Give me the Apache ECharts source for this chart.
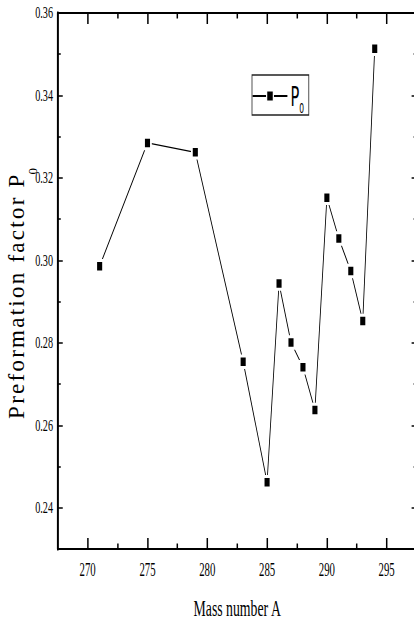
<!DOCTYPE html>
<html><head><meta charset="utf-8">
<script src="https://cdn.jsdelivr.net/npm/echarts@6/dist/echarts.min.js"></script>
<style>
html,body{margin:0;padding:0;overflow:hidden;background:#fff}
#wrap{width:720px;height:622px;transform:scaleX(0.6);transform-origin:0 0}
</style></head><body>
<div id="wrap"></div>
<script>
// ---- data ----
const massNumbers = [271, 275, 279, 283, 285, 286, 287, 288, 289, 290, 291, 292, 293, 294];
const p0Values = [0.2986, 0.3285, 0.3262, 0.2754, 0.2462, 0.2944, 0.2801, 0.2741, 0.2637, 0.3152, 0.3053, 0.2974, 0.2853, 0.3513];
const xMajorTicks = [270, 275, 280, 285, 290, 295];
const xMinorTicks = [272.5, 277.5, 282.5, 287.5, 292.5];
const yMajorTicks = [0.24, 0.26, 0.28, 0.30, 0.32, 0.34, 0.36];
const yMinorTicks = [0.25, 0.27, 0.29, 0.31, 0.33, 0.35];
const xRange = [267.5, 297.5];
const yRange = [0.23, 0.36];
const seriesName = 'P0';
const xTitle = 'Mass number A';
const yTitle = 'Preformation factor P';
const yTitleSub = '0';

// ---- chart ----
const S = 0.6;            // horizontal compression of the page
const GRID_W = 598;
const black = '#000';
const serif = "'Liberation Serif', 'Times New Roman', serif";
const narrow = "'Liberation Sans Narrow', 'DejaVu Sans Condensed', 'DejaVu Sans', sans-serif";
const chart = echarts.init(document.getElementById('wrap'), null, {renderer: 'svg'});

function xAx(pos, ticks, len, line, extra) {
  return Object.assign({
    type: 'value', position: pos, min: xRange[0], max: xRange[1],
    axisLine: {show: line, onZero: false, lineStyle: {color: black, width: 2}},
    axisTick: {show: true, inside: true, length: len, customValues: ticks, lineStyle: {color: black, width: 2.5}},
    axisLabel: {show: false},
    splitLine: {show: false}
  }, extra || {});
}
function yAx(ticks, len, line, inside, offset, extra) {
  return Object.assign({
    type: 'value', position: 'left', offset: offset, min: yRange[0], max: yRange[1],
    axisLine: {show: line, onZero: false, lineStyle: {color: black, width: 3.3}},
    axisTick: {show: true, inside: inside, length: len, customValues: ticks, lineStyle: {color: black, width: 1.5}},
    axisLabel: {show: false},
    splitLine: {show: false}
  }, extra || {});
}

// y title as rich text with small letter gaps
let yRich = '';
const chars = yTitle.split('');
chars.forEach((c, i) => {
  yRich += '{a|' + c + '}';
  if (i < chars.length - 1) yRich += '{g| }';
});
yRich += '{s|' + yTitleSub + '}';

const option = {
  animation: false,
  backgroundColor: '#fff',
  grid: {show: false, left: 96.3, top: 13, width: GRID_W, height: 536, outerBoundsMode: 'none', containLabel: false},
  xAxis: [
    xAx('bottom', xMajorTicks, 11, true, {
      axisLabel: {show: true, customValues: xMajorTicks, margin: 12, fontSize: 18, fontFamily: serif, color: black},
      name: xTitle, nameLocation: 'middle', nameGap: 48,
      nameTextStyle: {fontSize: 23, fontFamily: serif, color: black}
    }),
    xAx('bottom', xMinorTicks, 5.5, false),
    xAx('top', xMajorTicks, 11, true),
    xAx('top', xMinorTicks, 5.5, false)
  ],
  yAxis: [
    yAx(yMajorTicks, 8.3, true, true, 0, {
      axisLabel: {show: true, customValues: yMajorTicks, margin: 8, fontSize: 17, fontFamily: serif, color: black,
        formatter: v => Number(v).toFixed(2)}
    }),
    yAx(yMinorTicks, 5, false, true, 0),
    // right-hand frame ticks (pointing into the plot)
    yAx(yMajorTicks, 8.3, false, false, -GRID_W),
    yAx(yMinorTicks, 5, false, false, -GRID_W)
  ],
  legend: {
    left: 420, top: 75, padding: [2, 8, 0, 0],
    itemWidth: 58, itemHeight: 14, itemGap: 0,
    borderColor: '#222', borderWidth: 1.3, borderRadius: 0,
    data: [seriesName],
    formatter: name => '{a|' + name.charAt(0) + '}{s|' + name.slice(1) + '}',
    textStyle: {
      color: black,
      rich: {
        a: {fontSize: 27, lineHeight: 26, fontFamily: narrow, color: black},
        s: {fontSize: 14, lineHeight: 10, padding: [24, 0, 0, 0], fontFamily: narrow, color: black}
      }
    }
  },
  graphic: [{
    type: 'text', x: 27.5, y: 293.5, rotation: Math.PI / 2, scaleY: 1 / S, silent: true,
    style: {
      text: yRich, align: 'center', verticalAlign: 'middle', fill: black,
      rich: {
        a: {fontSize: 23, lineHeight: 25, fontFamily: serif, fill: black},
        g: {fontSize: 9, lineHeight: 8, fontFamily: serif},
        s: {fontSize: 13, lineHeight: 10, padding: [32, 0, 0, 0], fontFamily: serif, fill: black}
      }
    }
  }],
  series: [{
    type: 'line', name: seriesName, xAxisIndex: 0, yAxisIndex: 0,
    data: massNumbers.map((m, i) => [m, p0Values[i]]),
    symbol: 'rect', symbolSize: 11.5,
    itemStyle: {color: black, borderColor: '#fff', borderWidth: 3},
    lineStyle: {color: black, width: 1.4},
    emphasis: {disabled: true},
    clip: false, z: 5
  }]
};
chart.setOption(option);
</script>
</body></html>
